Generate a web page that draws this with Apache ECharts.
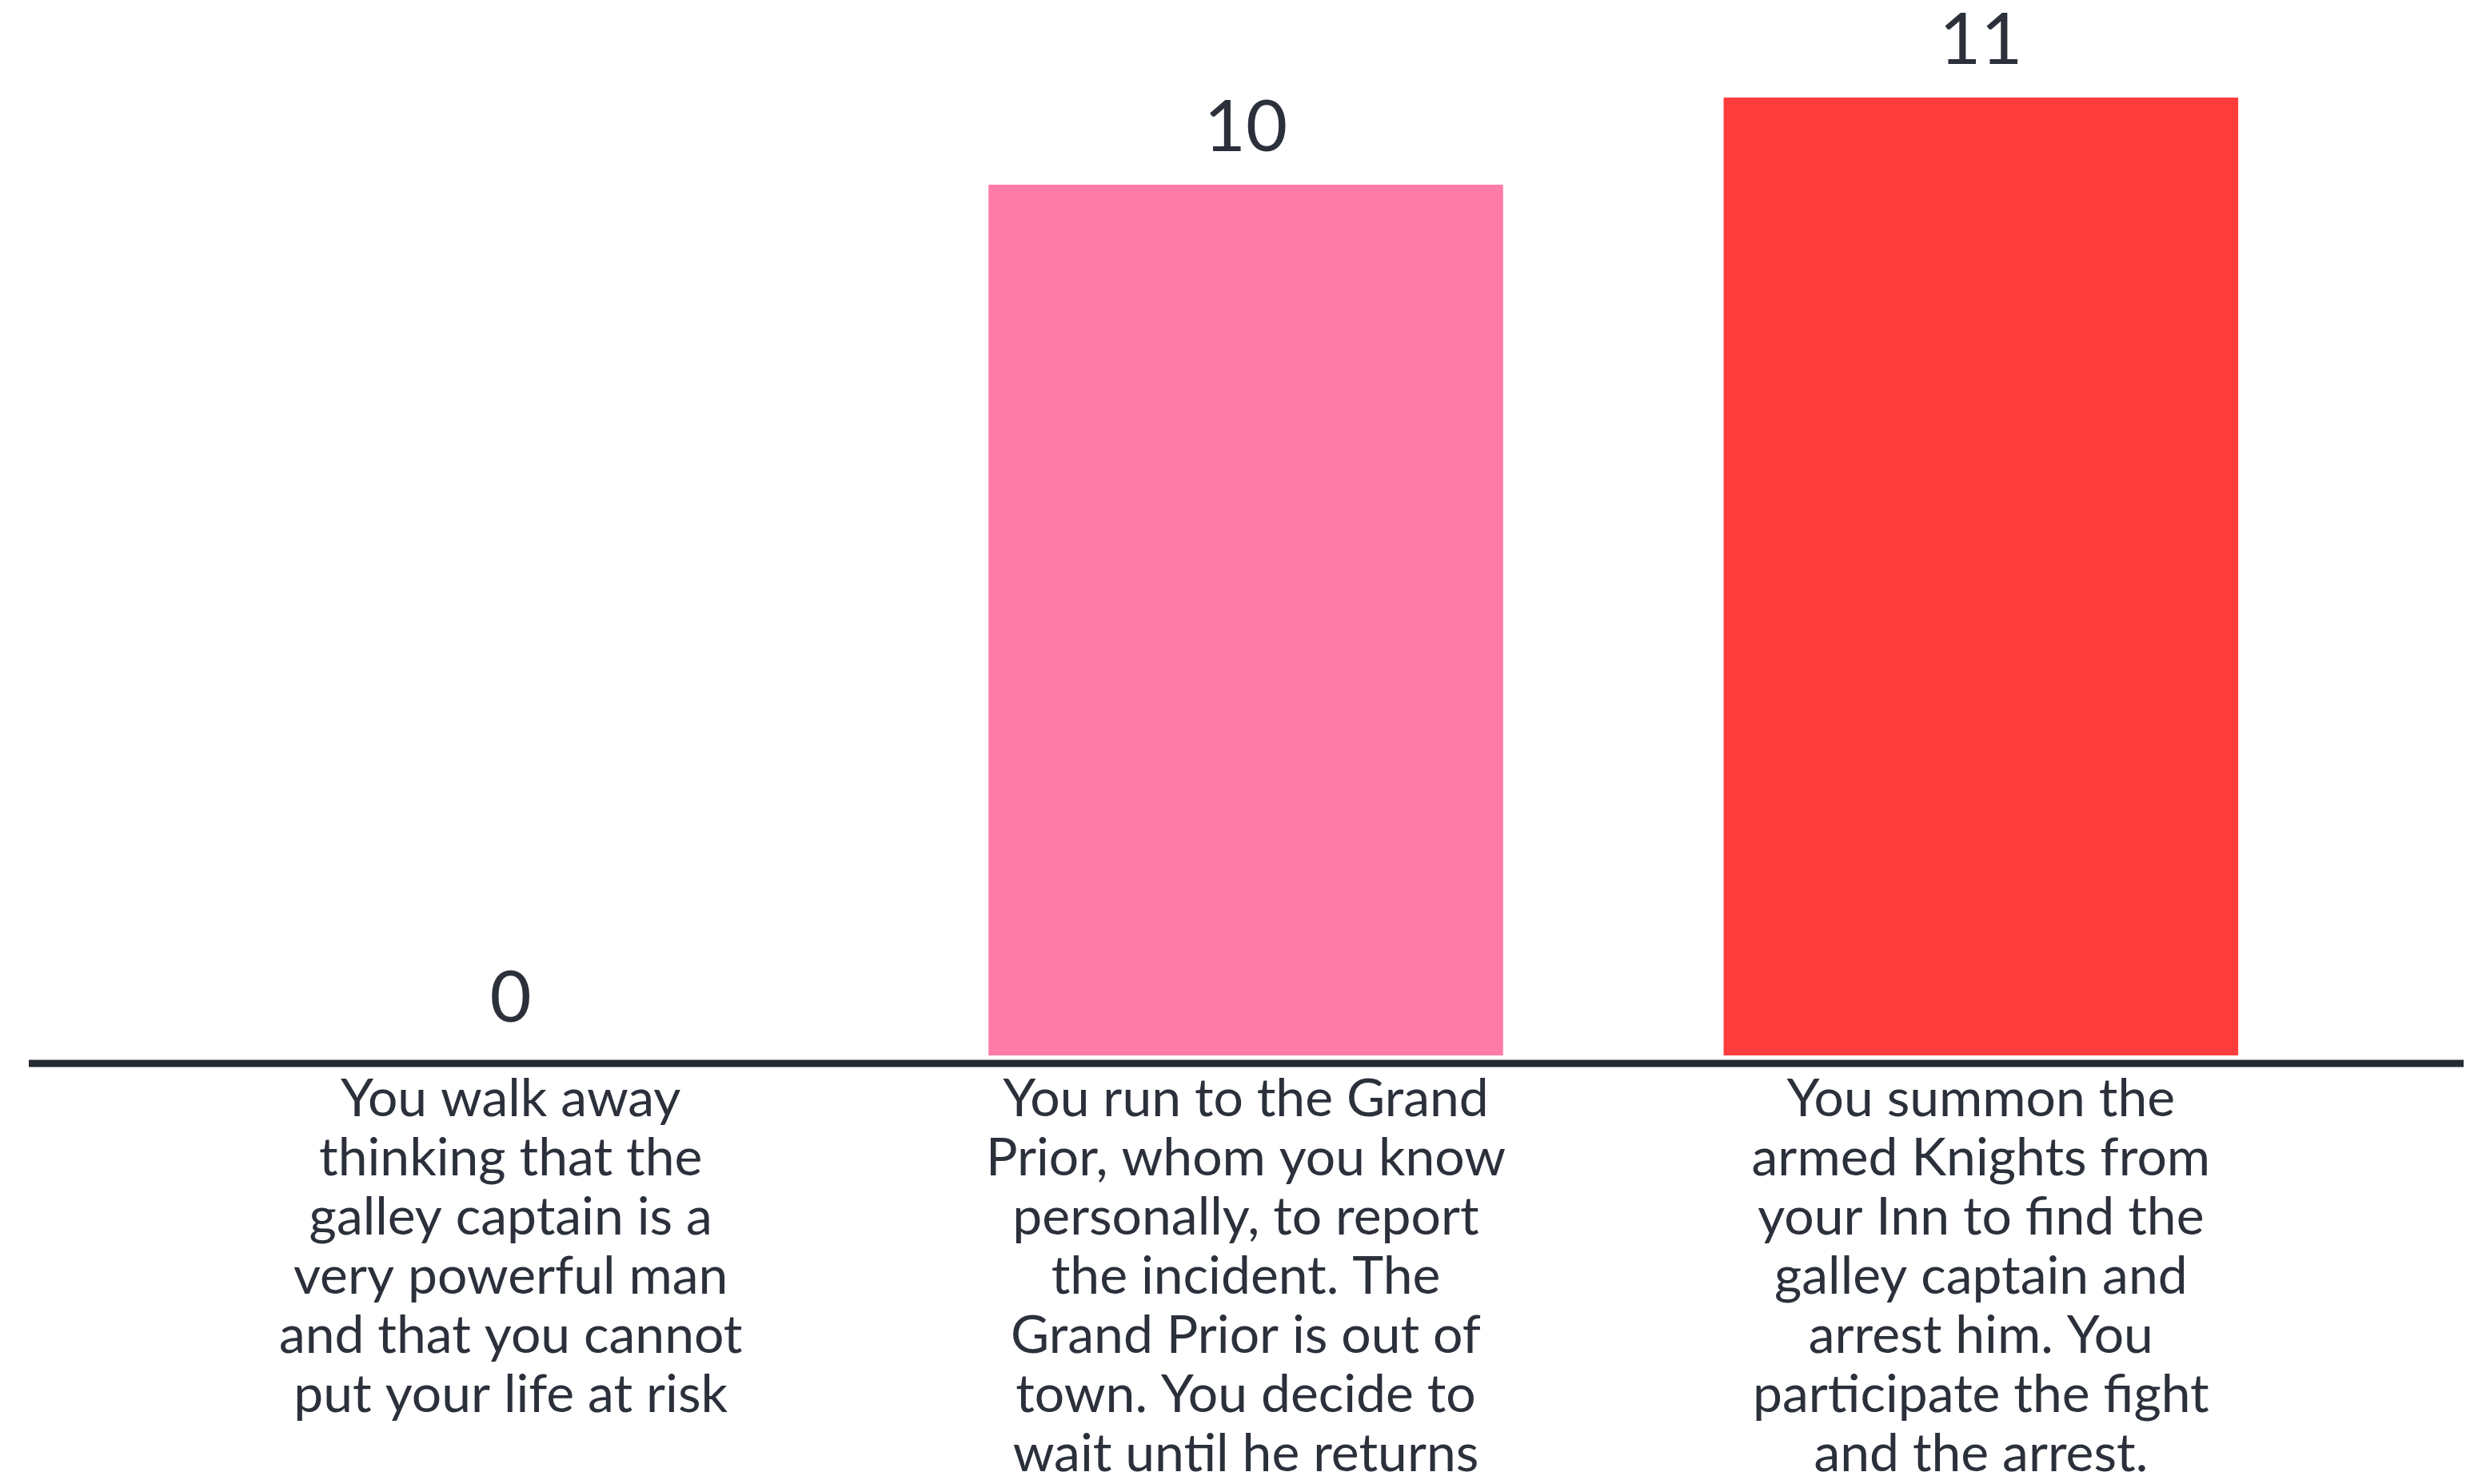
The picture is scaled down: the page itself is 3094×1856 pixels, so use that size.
<!DOCTYPE html>
<html>
<head>
<meta charset="utf-8">
<script src="https://cdn.jsdelivr.net/npm/echarts@6/dist/echarts.min.js"></script>
<style>
html,body{margin:0;padding:0;background:#ffffff;}
#chart{width:3094px;height:1856px;}
</style>
</head>
<body>
<div id="chart"></div>
<script>
const categories = [
  "You walk away\nthinking that the\ngalley captain is a\nvery powerful man\nand that you cannot\nput your life at risk",
  "You run to the Grand\nPrior, whom you know\npersonally, to report\nthe incident. The\nGrand Prior is out of\ntown. You decide to\nwait until he returns",
  "You summon the\narmed Knights from\nyour Inn to find the\ngalley captain and\narrest him. You\nparticipate the fight\nand the arrest."
];
const values = [0, 10, 11];
const barColors = ["#ff7ba8", "#ff7ba8", "#ff3c3c"];

const chart = echarts.init(document.getElementById('chart'), null, {renderer: 'canvas'});
const textColor = '#2b303b';
chart.setOption({
  backgroundColor: '#ffffff',
  animation: false,
  grid: {left: 179, right: 157, top: 122, bottom: 526, containLabel: false},
  xAxis: {
    type: 'category',
    data: categories,
    axisLine: {show: false},
    axisTick: {show: false},
    axisLabel: {
      interval: 0,
      margin: 18,
      color: textColor,
      fontFamily: 'Lato',
      fontSize: 66,
      lineHeight: 74,
      align: 'center',
      verticalAlign: 'top'
    }
  },
  yAxis: {
    type: 'value',
    min: 0,
    max: 11,
    show: false,
    splitLine: {show: false}
  },
  series: [{
    type: 'bar',
    barWidth: '70%',
    data: values.map((v, i) => ({value: v, itemStyle: {color: barColors[i]}})),
    label: {
      show: true,
      position: 'top',
      distance: 26,
      color: textColor,
      fontFamily: 'Lato',
      fontSize: 90
    }
  }],
  graphic: [{
    type: 'line',
    shape: {x1: 36, y1: 1330, x2: 3081, y2: 1330},
    style: {stroke: '#252a33', lineWidth: 9},
    z: 100
  }]
});
</script>
</body>
</html>
